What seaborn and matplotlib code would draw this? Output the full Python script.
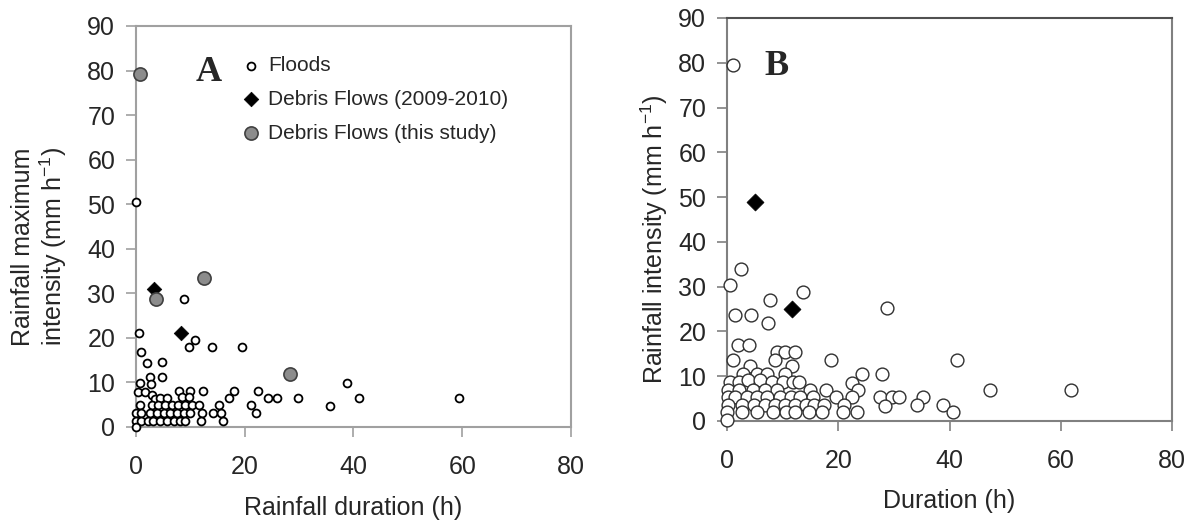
import matplotlib
matplotlib.use("Agg")
import pandas as pd
import matplotlib.pyplot as plt
import seaborn as sns

# PANEL A DATA  (duration h, max intensity mm/h)
floods_a_x = [0, 8.9, 0.6, 10.9, 9.7, 13.9, 19.5, 1.0, 2.0, 4.8, 2.6, 4.8,
              0.7, 2.7, 38.8, 0.4, 1.7, 8.0, 10.0, 12.3, 18.0, 22.5,
              2.9, 3.5, 4.4, 5.7, 8.5, 9.7, 17.1, 24.2, 26.0, 29.8, 41.0, 59.4, 35.6,
              0.7, 2.9, 4.1, 5.4, 6.6, 7.8, 9.1, 10.3, 11.5, 15.2, 21.1,
              0, 1.0, 2.6, 3.8, 5.1, 6.3, 7.5, 8.8, 10.0, 12.2, 14.2, 15.6, 22.0,
              0, 1.0, 2.3, 3.2, 4.4, 5.7, 6.9, 8.1, 9.1, 11.9, 16.0, 0]
floods_a_y = [50.5, 28.7, 21.1, 19.5, 18.0, 18.0, 18.0, 16.8, 14.3, 14.5, 11.3, 11.3,
              9.8, 9.6, 9.8, 7.9, 7.9, 8.1, 8.1, 8.1, 8.1, 8.1,
              7.2, 6.2, 6.4, 6.4, 6.8, 6.8, 6.4, 6.4, 6.4, 6.4, 6.6, 6.6, 4.7,
              4.9, 4.9, 4.9, 4.9, 4.9, 4.9, 4.9, 4.9, 4.9, 4.9, 4.9,
              3.2, 3.2, 3.2, 3.2, 3.2, 3.2, 3.2, 3.2, 3.2, 3.2, 3.2, 3.2, 3.2,
              1.4, 1.4, 1.4, 1.4, 1.4, 1.4, 1.4, 1.4, 1.4, 1.4, 1.4, 0]
debris_a_x = [3.4, 8.2]
debris_a_y = [30.9, 21.0]
study_a_x = [0.7, 3.7, 12.5, 28.3]
study_a_y = [79.3, 28.7, 33.5, 12.0]

# PANEL B DATA  (duration h, intensity mm/h)
floods_b_x = [1.0, 2.5, 0.5, 7.8, 13.6, 28.8, 1.5, 4.3, 7.3, 2.0, 4.0, 1.1,
              8.9, 10.4, 12.2, 8.6, 18.6, 41.4, 4.1, 11.6,
              2.9, 5.3, 7.2, 10.4, 24.2, 27.9,
              0.5, 2.2, 3.8, 5.9, 8.0, 10.0, 11.8, 13.0, 22.4,
              0.2, 2.2, 4.7, 6.9, 9.0, 15.0, 17.8, 23.6, 47.3, 61.8,
              0.2, 1.5, 3.6, 5.3, 7.2, 9.5, 11.5, 13.2, 15.5, 19.5, 22.4, 27.5, 29.6, 31.0, 35.3,
              0.2, 2.6, 4.9, 6.9, 8.7, 10.5, 12.2, 14.2, 15.6, 17.4, 21.0, 28.4, 34.1, 38.9,
              0.0, 2.7, 5.3, 8.3, 10.6, 12.2, 14.8, 17.0, 20.9, 23.3, 40.6, 0.0]
floods_b_y = [79.5, 34.0, 30.4, 27.1, 28.9, 25.2, 23.7, 23.7, 21.9, 17.0, 17.0, 13.6,
              15.5, 15.5, 15.5, 13.6, 13.7, 13.6, 12.2, 12.2,
              10.4, 10.4, 10.4, 10.4, 10.4, 10.4,
              8.6, 8.6, 9.2, 9.2, 8.6, 8.6, 8.6, 8.6, 8.5,
              7.0, 7.0, 7.0, 7.0, 7.0, 7.0, 7.0, 7.0, 6.9, 6.9,
              5.3, 5.3, 5.3, 5.3, 5.3, 5.3, 5.3, 5.3, 5.3, 5.3, 5.3, 5.3, 5.3, 5.3, 5.3,
              3.6, 3.6, 3.6, 3.6, 3.6, 3.6, 3.6, 3.6, 3.6, 3.6, 3.6, 3.4, 3.6, 3.6,
              2.0, 2.0, 2.0, 2.0, 2.0, 2.0, 2.0, 2.0, 2.0, 2.0, 1.9, 0.2]
debris_b_x = [5.0, 11.6]
debris_b_y = [49.0, 25.1]

ticks_x = [0, 20, 40, 60, 80]
ticks_y = [0, 10, 20, 30, 40, 50, 60, 70, 80, 90]

sns.set_style("white")
plt.rcParams['font.family'] = ['Liberation Sans', 'DejaVu Sans']
plt.rcParams['mathtext.fontset'] = 'custom'
plt.rcParams['mathtext.rm'] = 'Liberation Sans'
plt.rcParams['mathtext.it'] = 'Liberation Sans'

fig = plt.figure(figsize=(11.96, 5.28), dpi=100)
axA = fig.add_axes([0.1137, 0.1913, 0.3637, 0.7595])
axB = fig.add_axes([0.6079, 0.2027, 0.3721, 0.7633])

# PANEL A
sns.scatterplot(x=floods_a_x, y=floods_a_y, ax=axA, marker='o', s=32, color='white',
                edgecolor='black', linewidth=1.3, clip_on=False, zorder=3, label='Floods')
sns.scatterplot(x=debris_a_x, y=debris_a_y, ax=axA, marker='D', s=55, color='black',
                edgecolor='black', linewidth=0.5, clip_on=False, zorder=4, label='Debris Flows (2009-2010)')
sns.scatterplot(x=study_a_x, y=study_a_y, ax=axA, marker='o', s=90, color='#8c8c8c',
                edgecolor='#404040', linewidth=1.2, clip_on=False, zorder=4, label='Debris Flows (this study)')
axA.legend(loc='upper left', bbox_to_anchor=(0.222, 0.945), frameon=False, fontsize=15,
           handletextpad=0.3, labelspacing=0.7, handlelength=1.0, borderaxespad=0)
axA.text(13.3, 79.5, 'A', fontsize=26, fontweight='bold', ha='center', va='center',
         family=['Liberation Serif', 'DejaVu Serif'])
axA.set_xlabel("Rainfall duration (h)", fontsize=18)
axA.set_ylabel("Rainfall maximum\nintensity (mm h$^{-1}$)", fontsize=18, linespacing=1.1)
axA.yaxis.set_label_coords(-0.155, 0.45)
axA.xaxis.set_label_coords(0.5, -0.172)

# PANEL B
sns.scatterplot(x=floods_b_x, y=floods_b_y, ax=axB, marker='o', s=85, color='white',
                edgecolor='#303030', linewidth=1.0, clip_on=False, zorder=3)
sns.scatterplot(x=debris_b_x, y=debris_b_y, ax=axB, marker='D', s=75, color='black',
                edgecolor='black', linewidth=0.5, clip_on=False, zorder=4)
axB.text(8.8, 79.2, 'B', fontsize=26, fontweight='bold', ha='center', va='center',
         family=['Liberation Serif', 'DejaVu Serif'])
axB.set_xlabel("Duration (h)", fontsize=18)
axB.set_ylabel("Rainfall intensity (mm h$^{-1}$)", fontsize=18)
axB.yaxis.set_label_coords(-0.128, 0.45)
axB.xaxis.set_label_coords(0.5, -0.168)

for ax, col in [(axA, '#a0a0a0'), (axB, '#808080')]:
    ax.set_xlim(0, 80)
    ax.set_ylim(0, 90)
    ax.set_xticks(ticks_x)
    ax.set_yticks(ticks_y)
    ax.tick_params(axis='both', labelsize=18, length=7, width=1.2, color=col,
                   direction='out', left=True, bottom=True, pad=8)
    ax.tick_params(axis='x', pad=13)
    for sp in ax.spines.values():
        sp.set_color(col)
        sp.set_linewidth(1.5)
        sp.set_visible(True)

axB.spines['top'].set_color('#505050')

plt.savefig("out.png", dpi=100, facecolor='white')
